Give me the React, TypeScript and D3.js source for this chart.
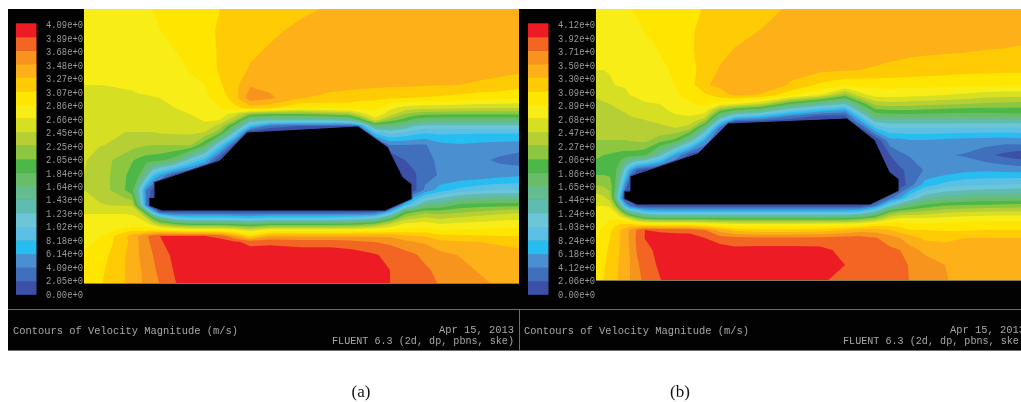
import * as d3 from 'd3'

// Band colours of the Fluent legend, lowest speed first
const bandColors = [
  '#3c50a8', '#4070bc', '#4a90d0', '#27bdf0', '#5cc0e4', '#6cc6d8', '#60bcb0', '#64bc8e', '#6abd68', '#4db848',
  '#8dc63f', '#b5cf35', '#d7df23', '#f9ed17', '#ffe600', '#ffcb05', '#fdb017', '#f7941e', '#f26522', '#ed1c24',
]

const labelsA = ['4.09e+0', '3.89e+0', '3.68e+0', '3.48e+0', '3.27e+0', '3.07e+0', '2.86e+0', '2.66e+0', '2.45e+0', '2.25e+0', '2.05e+0', '1.84e+0', '1.64e+0', '1.43e+0', '1.23e+0', '1.02e+0', '8.18e+0', '6.14e+0', '4.09e+0', '2.05e+0', '0.00e+0']
const labelsB = ['4.12e+0', '3.92e+0', '3.71e+0', '3.50e+0', '3.30e+0', '3.09e+0', '2.89e+0', '2.68e+0', '2.47e+0', '2.27e+0', '2.06e+0', '1.86e+0', '1.65e+0', '1.44e+0', '1.24e+0', '1.03e+0', '8.24e+0', '6.18e+0', '4.12e+0', '2.06e+0', '0.00e+0']

// Sampling stations along and across the domain
const stationsXA = [0, 16, 31, 41, 48, 55, 62, 69, 76, 91, 106, 121, 136, 151, 166, 186, 216, 246, 266, 276, 291, 306, 321, 331, 341, 356, 376, 396, 416, 435]
const stationsYA = [0, 21, 41, 61, 76, 89, 99, 105, 111, 117, 123, 136, 151, 166, 181, 196, 203, 209, 215, 221, 227, 233, 246, 261, 274]
const stationsXB = [0, 8, 14, 19, 24, 29, 34, 41, 49, 64, 79, 94, 109, 124, 139, 164, 194, 224, 249, 264, 279, 294, 304, 314, 329, 349, 369, 389, 409, 425]
const stationsYB = [0, 21, 41, 61, 76, 86, 95, 101, 107, 113, 119, 131, 146, 161, 176, 189, 197, 203, 209, 215, 221, 229, 241, 256, 271]

const bodyA = [[70, 173], [136, 151], [163, 123], [274, 117], [304, 138], [319, 168], [328, 175], [328, 190], [301, 202], [78, 202], [65, 197], [65, 188.5], [70, 188.5]]
const bodyB = [[34, 167], [102, 144], [132, 114], [251, 109], [279, 131], [294, 163], [303, 170], [303, 182], [274, 196], [41, 196], [28, 190], [28, 182], [34, 182]]

// Speed, in legend steps (one step is a twentieth of the top label)
const speedA = [
  [13.2, 13.3, 13.5, 13.6, 13.7, 13.8, 13.9, 14, 14.1, 14.4, 14.7, 14.9, 15, 15.2, 15.3, 15.5, 15.8, 16.1, 16.3, 16.4, 16.5, 16.5, 16.5, 16.5, 16.5, 16.5, 16.5, 16.5, 16.5, 16.5],
  [13.1, 13.2, 13.3, 13.4, 13.5, 13.6, 13.7, 13.85, 14, 14.3, 14.5, 14.8, 15.1, 15.3, 15.5, 15.8, 16.2, 16.4, 16.5, 16.5, 16.5, 16.5, 16.5, 16.5, 16.5, 16.5, 16.5, 16.5, 16.5, 16.5],
  [13.1, 13.15, 13.2, 13.25, 13.3, 13.35, 13.4, 13.5, 13.6, 14, 14.3, 14.7, 15.1, 15.5, 15.8, 16.1, 16.4, 16.5, 16.5, 16.5, 16.5, 16.5, 16.5, 16.5, 16.5, 16.5, 16.5, 16.5, 16.5, 16.5],
  [13.1, 13.1, 13.1, 13.15, 13.2, 13.25, 13.3, 13.4, 13.5, 13.7, 14.05, 14.6, 15.1, 15.6, 16.1, 16.4, 16.5, 16.5, 16.5, 16.5, 16.5, 16.5, 16.5, 16.5, 16.5, 16.5, 16.4, 16.35, 16.3, 16.2],
  [13, 13, 13.05, 13.1, 13.1, 13.2, 13.3, 13.4, 13.5, 13.6, 13.8, 14, 14.9, 15.7, 16.9, 16.7, 16.6, 16.5, 16.35, 16.3, 16.25, 16.2, 16.15, 16.1, 16.1, 16.05, 16, 15.85, 15.65, 15.4],
  [12.7, 12.7, 12.75, 12.8, 12.85, 12.9, 12.9, 12.95, 13, 13.2, 13.5, 13.8, 14.4, 15.6, 17.6, 17.2, 16.1, 15.6, 15.4, 15.3, 15.2, 15.1, 15, 14.95, 14.9, 14.8, 14.6, 14.4, 14.3, 14.1],
  [12.7, 12.7, 12.7, 12.7, 12.7, 12.7, 12.75, 12.8, 12.85, 13, 13.3, 13.5, 14, 14.7, 15.5, 15.3, 14, 14.3, 14.5, 14.3, 14.3, 13.2, 12.6, 12.4, 12.3, 12.3, 12.2, 12.1, 12, 12],
  [12.6, 12.6, 12.6, 12.6, 12.6, 12.6, 12.6, 12.65, 12.7, 12.8, 13, 13.3, 13.5, 12.5, 10.5, 10, 10, 10.5, 11, 12.5, 13.7, 12.5, 11, 10.5, 10.3, 10.2, 10.1, 10.1, 10.1, 10.2],
  [12.5, 12.5, 12.5, 12.5, 12.5, 12.5, 12.5, 12.5, 12.5, 12.5, 12.7, 13.1, 13, 11, 7, 6.5, 6.5, 6.5, 7, 9, 12.5, 10.5, 9.5, 8.5, 8.2, 8.1, 8.1, 8.1, 8.1, 8.1],
  [12.4, 12.4, 12.4, 12.4, 12.4, 12.4, 12.4, 12.4, 12.4, 12.4, 12.4, 12.8, 11.5, 8.5, 4, 1.5, 1, 1, 1, 2.5, 8, 8, 7, 6, 5.7, 5.7, 5.7, 5.7, 5.7, 5.7],
  [12.3, 12.2, 12.1, 12, 12, 12, 12, 12, 12.1, 12.2, 12.2, 12, 10.5, 6, 0.2, 0, 0, 0, 0, 0, 4.5, 5.5, 5, 4.5, 4.2, 4.3, 4.2, 4.2, 4.2, 4.2],
  [12.2, 12.05, 11.9, 11.6, 11.4, 11.2, 11.1, 11, 11, 11, 11.2, 9, 4.7, 0.5, 0, 0, 0, 0, 0, 0, 0, 2, 2, 1.9, 1.9, 2.7, 2.9, 2.7, 2.6, 2.5],
  [12.1, 11.5, 10.9, 10.5, 10.1, 9.8, 9.5, 9.4, 9.3, 8.5, 5.5, 3.5, 0, 0, 0, 0, 0, 0, 0, 0, 0, 0, 1, 1.3, 1.7, 2.2, 2.4, 2.2, 1.8, 1.5],
  [12, 11.4, 10.8, 10.1, 9.6, 9.1, 7, 4.2, 3, 0.5, 0, 0, 0, 0, 0, 0, 0, 0, 0, 0, 0, 0, 0.3, 0.9, 1.6, 2.1, 2.2, 2.3, 2.6, 2.8],
  [12, 11.4, 10.8, 10, 9.3, 6, 2, 0.5, 0, 0, 0, 0, 0, 0, 0, 0, 0, 0, 0, 0, 0, 0, 0, 0.8, 2.2, 3.5, 4.3, 4.8, 5, 5],
  [12.3, 12.1, 11.9, 11.9, 11.8, 8, 2, 0, 0, 0, 0, 0, 0, 0, 0, 0, 0, 0, 0, 0, 0, 0, 3.5, 5.5, 7.5, 8, 9.3, 9.5, 9.6, 9.6],
  [12.9, 12.9, 12.9, 12.9, 12.9, 12, 9, 4, 1, 0.8, 0.8, 0.8, 0.8, 0.7, 0.7, 0.8, 0.8, 0.8, 0.8, 0.8, 1, 3.5, 9.2, 10, 10.7, 10.5, 10.8, 11.2, 11.6, 11.8],
  [13.2, 13.2, 13.2, 13.2, 13.1, 13, 12, 9.5, 7.5, 5, 4.5, 4.5, 4.5, 4.3, 4, 4.5, 4.5, 4.5, 4.8, 5, 5.5, 8.5, 11.5, 11.8, 12.2, 11.8, 12.2, 12.5, 12.7, 12.8],
  [13.3, 13.3, 13.3, 13.3, 13.5, 13.6, 13.5, 12.5, 11.2, 10, 9.3, 9.3, 9.3, 9, 8.5, 9.2, 9.2, 9.2, 9.4, 9.7, 10.5, 12, 13.2, 13.3, 13.5, 13, 13.2, 13.3, 13.4, 13.5],
  [13.3, 13.5, 14, 14.5, 14.8, 14.5, 14.6, 14.7, 14.5, 14.2, 13.8, 13.8, 13.8, 13.3, 12.5, 13.5, 13.5, 13.5, 13.6, 13.7, 13.8, 14, 14.3, 14.3, 14.5, 14, 14.1, 14.2, 14.3, 14.3],
  [13.5, 14, 15.1, 15.8, 16.5, 17.1, 17.8, 18.5, 19, 19, 19, 19, 18.7, 17, 15, 16.8, 16.8, 16.8, 16.8, 16.8, 16.8, 16.8, 16.2, 16, 15.9, 15.3, 15.2, 15.1, 15, 15],
  [13.7, 14.2, 15.1, 15.8, 16.25, 17.05, 17.7, 18.3, 18.9, 19.4, 19.5, 19.5, 19.4, 19.2, 18.7, 18.8, 18.6, 18.6, 18.4, 18.2, 18, 17.8, 17.3, 17, 16.9, 16.3, 16.1, 16, 15.9, 15.7],
  [14.1, 14.6, 15.3, 15.95, 16.5, 17, 17.5, 18, 18.45, 19.3, 19.6, 19.7, 19.7, 19.7, 19.6, 19.6, 19.6, 19.6, 19.5, 19.4, 19.1, 18.7, 18.4, 18.1, 17.7, 17.3, 16.95, 16.5, 16.3, 16.3],
  [14.2, 14.8, 15.4, 16, 16.4, 16.85, 17.3, 17.8, 18.3, 19.1, 19.6, 19.7, 19.7, 19.7, 19.7, 19.7, 19.7, 19.7, 19.6, 19.5, 19.3, 19, 18.8, 18.6, 18.2, 17.7, 17.3, 16.9, 16.6, 16.5],
  [14.3, 14.9, 15.5, 16, 16.4, 16.85, 17.2, 17.65, 18.05, 18.95, 19.5, 19.7, 19.7, 19.7, 19.7, 19.7, 19.7, 19.7, 19.6, 19.5, 19.3, 19, 18.9, 18.7, 18.4, 17.9, 17.6, 17.2, 16.8, 16.5],
]

const speedB = [
  [13.2, 13.3, 13.4, 13.5, 13.6, 13.8, 14, 14.15, 14.25, 14.5, 14.7, 14.85, 15.05, 15.2, 15.4, 15.7, 16.1, 16.3, 16.4, 16.5, 16.5, 16.5, 16.5, 16.5, 16.5, 16.5, 16.5, 16.5, 16.5, 16.5],
  [13.1, 13.2, 13.3, 13.3, 13.4, 13.5, 13.6, 13.8, 14.05, 14.35, 14.7, 14.9, 15.2, 15.5, 15.7, 16, 16.3, 16.5, 16.5, 16.5, 16.5, 16.5, 16.5, 16.5, 16.5, 16.5, 16.5, 16.5, 16.5, 16.5],
  [13.05, 13.1, 13.15, 13.2, 13.25, 13.3, 13.4, 13.5, 13.7, 14.05, 14.5, 14.9, 15.3, 15.7, 16.05, 16.4, 16.5, 16.5, 16.5, 16.4, 16.4, 16.35, 16.3, 16.25, 16.2, 16.15, 16.1, 16, 15.95, 15.85],
  [13, 13, 13.05, 13.1, 13.15, 13.2, 13.3, 13.4, 13.6, 13.8, 14.15, 14.7, 15.4, 16.1, 16.9, 16.4, 16.3, 16.2, 16.1, 16, 15.9, 15.75, 15.7, 15.6, 15.5, 15.4, 15.3, 15.25, 15.2, 15.2],
  [12.6, 12.8, 12.9, 13, 13.05, 13.1, 13.15, 13.25, 13.4, 13.6, 14, 14.6, 15.9, 16.2, 17, 16.9, 15.9, 14.8, 14.2, 14.3, 14.3, 14.3, 14.3, 14.3, 14.3, 14.3, 14.2, 14.2, 14.15, 14.15],
  [12.1, 12.3, 12.5, 12.6, 12.7, 12.8, 13, 13.2, 13.3, 13.5, 13.9, 14.3, 14.8, 15.6, 16.2, 15.9, 14.3, 13, 10.5, 12.5, 13.4, 13.5, 13.4, 13.3, 13.2, 13, 12.8, 12.5, 12.4, 12.4],
  [11.8, 11.9, 12, 12.1, 12.2, 12.3, 12.4, 12.6, 12.9, 13, 13.5, 13.9, 14.3, 13.5, 13, 12, 9, 7, 6, 9, 11.3, 11.6, 11.5, 11.4, 11.3, 11.2, 11, 10.8, 10.7, 10.6],
  [11.7, 11.75, 11.8, 11.9, 12, 12.1, 12.2, 12.4, 12.6, 12.8, 13.2, 13.3, 13.5, 10.5, 9, 8, 5.2, 3.8, 3, 7, 9.7, 10, 10, 10, 9.9, 9.7, 9.6, 9.5, 9.6, 9.6],
  [11.6, 11.6, 11.7, 11.75, 11.8, 11.85, 12, 12.1, 12.2, 12.4, 12.9, 13, 12.5, 7.5, 5, 4, 2, 0.8, 0.7, 4.5, 8.2, 8.4, 8.5, 8.5, 8.5, 8.4, 8.4, 8.4, 8.5, 8.6],
  [11.5, 11.5, 11.5, 11.55, 11.6, 11.65, 11.7, 11.8, 11.9, 12.1, 12.3, 12.4, 10.5, 4.5, 0.5, 0.3, 0, 0, 0, 2.5, 6, 6.3, 6.3, 6.3, 6.3, 6.3, 6.3, 6.3, 6.3, 6.3],
  [11.3, 11.35, 11.4, 11.45, 11.5, 11.55, 11.6, 11.7, 11.75, 11.8, 12, 11.5, 7.5, 1.5, 0, 0, 0, 0, 0, 0.5, 4, 5, 5, 5, 5, 5, 4.9, 4.9, 4.9, 4.9],
  [11, 11, 11, 11, 11, 11, 11.1, 11.2, 11.3, 10.5, 9.8, 7, 3, 0, 0, 0, 0, 0, 0, 0, 0, 2.7, 2.7, 3, 3, 2.8, 2.7, 2.6, 2.5, 2.7],
  [10.2, 10, 9.9, 9.8, 9.7, 9.6, 9.6, 9.5, 9.2, 6.5, 3, 0.5, 0, 0, 0, 0, 0, 0, 0, 0, 0, 1, 1.8, 2.1, 2.3, 2.1, 1.9, 1.3, 0.7, 0.3],
  [9.5, 9.6, 9.6, 9.3, 8, 5.5, 3, 1, 0.3, 0, 0, 0, 0, 0, 0, 0, 0, 0, 0, 0, 0, 0.3, 0.8, 1.3, 2.1, 2.3, 2.7, 2.8, 2.7, 2.6],
  [11, 10.8, 10.5, 9, 6, 2.5, 0, 0, 0, 0, 0, 0, 0, 0, 0, 0, 0, 0, 0, 0, 0, 0, 0.3, 1.5, 3.5, 4.4, 4.8, 5, 5.1, 5.2],
  [12.6, 12.2, 11.5, 8, 3.5, 0, 0, 0, 0, 0, 0, 0, 0, 0, 0, 0, 0, 0, 0, 0, 0, 1.5, 3, 5, 6.8, 7.6, 7.8, 8, 8.1, 8.2],
  [13, 13, 12.9, 11, 8, 4, 2, 0.8, 0.5, 0.5, 0.5, 0.5, 0.5, 0.5, 0.5, 0.5, 0.5, 0.5, 0.5, 0.5, 2, 6, 7.5, 8.5, 9.5, 10.1, 10.3, 10.4, 10.5, 10.6],
  [13.3, 13.4, 13.5, 13, 11.5, 9, 7, 6, 4.5, 4, 4, 4, 4, 4, 4, 4, 4, 4, 4, 4.5, 6.5, 10, 10.8, 11, 11.3, 11.8, 12, 12.1, 12.2, 12.2],
  [13.5, 13.7, 13.8, 13.7, 13.5, 13, 12, 10.5, 9.5, 9, 9, 9, 9, 9, 9, 9, 9, 9, 9, 9.5, 10.5, 12.5, 13, 13, 13, 13.2, 13.4, 13.5, 13.6, 13.6],
  [13.7, 13.9, 14.4, 14.7, 15, 15, 15.1, 14.6, 14.2, 14, 14, 14, 13.6, 13.3, 13, 13, 13, 13.1, 13.3, 13.5, 14.2, 14.5, 14.5, 14.1, 14, 14.2, 14.3, 14.4, 14.4, 14.4],
  [13.8, 14.2, 14.8, 15.4, 15.95, 16.5, 17.2, 18.1, 19, 18.8, 18.7, 18.6, 18, 16.5, 15.7, 15.3, 15.3, 15.5, 16, 16.5, 16.5, 16, 15.5, 15, 15, 14.9, 14.9, 15, 15, 15],
  [13.9, 14.4, 15, 15.5, 16, 16.5, 17.2, 18.2, 19.05, 19.5, 19.45, 19.5, 19, 18.5, 18.3, 18.2, 18.2, 18.3, 18.5, 18.4, 18.1, 17.5, 17, 16.5, 15.8, 15.7, 16, 16, 16, 16],
  [14.1, 14.7, 15.2, 15.6, 16.05, 16.5, 17.1, 18.1, 18.6, 19.4, 19.6, 19.7, 19.6, 19.5, 19.3, 19.4, 19.4, 19.3, 18.7, 18.7, 18.5, 18.2, 18, 17.3, 16.8, 16.5, 16.3, 16.3, 16.3, 16.3],
  [14.2, 14.9, 15.4, 15.7, 16.15, 16.5, 17, 17.85, 18.4, 19.2, 19.6, 19.7, 19.7, 19.7, 19.7, 19.6, 19.6, 19.5, 19, 18.85, 18.5, 18.4, 18.4, 17.9, 17.4, 17, 16.4, 16.5, 16.5, 16.5],
  [14.3, 15.05, 15.5, 15.8, 16.2, 16.6, 17, 17.7, 18.25, 18.95, 19.5, 19.7, 19.7, 19.7, 19.7, 19.6, 19.6, 19.2, 18.6, 18.85, 18.5, 18.4, 18.4, 17.95, 17.5, 17.1, 16.5, 16.5, 16.5, 16.5],
]

const titleText = 'Contours of Velocity Magnitude (m/s)'
const dateText = 'Apr 15, 2013'
const solverText = 'FLUENT 6.3 (2d, dp, pbns, ske)'

const mono = '"Liberation Mono", "DejaVu Sans Mono", monospace'

function Panel({ id, left, right, plotLeft, plotBottom, legendLeft, stationsX, stationsY, speed, body, labels, caption, captionX }: any) {
  const width = stationsX[stationsX.length - 1]
  const height = stationsY[stationsY.length - 1]
  const xScale = d3.scaleLinear().domain([0, width]).range([plotLeft, plotLeft + width])
  const yScale = d3.scaleLinear().domain([0, height]).range([9, plotBottom])

  // d3.contours works in grid indices with nodes at i + 0.5, so map those back to the stations
  const xGrid = d3.scaleLinear().domain(stationsX.map((_: number, i: number) => i + 0.5)).range(stationsX)
  const yGrid = d3.scaleLinear().domain(stationsY.map((_: number, i: number) => i + 0.5)).range(stationsY)
  const project = d3.geoTransform({
    point(x, y) {
      this.stream.point(xScale(xGrid(x)), yScale(yGrid(y)))
    },
  })
  const path = d3.geoPath(project)

  const contours = d3.contours()
    .size([stationsX.length, stationsY.length])
    .smooth(true)
    .thresholds(d3.range(0, bandColors.length))(speed.flat())

  const bodyPath = d3.line().x((p: number[]) => xScale(p[0])).y((p: number[]) => yScale(p[1])).curve(d3.curveLinearClosed)(body)

  const legendY = d3.scaleLinear().domain([0, bandColors.length]).range([294.3, 23.3])
  const labelY = d3.scaleLinear().domain([0, labels.length - 1]).range([25, 294.3])
  const footerText = { fontFamily: mono, fill: '#a8a8a8', lengthAdjust: 'spacingAndGlyphs' as const, fontSize: 11 }

  return (
    <g>
      <rect x={left} y={9} width={right - left} height={342} fill="#020202" />
      <clipPath id={`plot-${id}`}>
        <rect x={plotLeft} y={9} width={width} height={height} />
      </clipPath>
      <g clipPath={`url(#plot-${id})`}>
        {contours.map((c: any, i: number) => (
          <path key={i} d={path(c) ?? ''} fill={bandColors[i]} />
        ))}
        <path d={bodyPath ?? ''} fill="#000" stroke={bandColors[0]} strokeWidth={1} />
      </g>
      <line x1={plotLeft} x2={plotLeft + width} y1={plotBottom + 0.5} y2={plotBottom + 0.5} stroke="#8a7a50" strokeWidth={1} />

      {bandColors.map((color, i) => (
        <rect key={color} x={legendLeft} y={legendY(i + 1)} width={20.5} height={legendY(i) - legendY(i + 1) + 0.5} fill={color} />
      ))}
      {labels.map((label: string, i: number) => (
        <text key={i} x={legendLeft + 30} y={labelY(i)} dy="0.34em" fontFamily={mono} fontSize={10} textLength={37} lengthAdjust="spacingAndGlyphs" fill="#9a9a9a">{label}</text>
      ))}

      <line x1={left} x2={right} y1={309.5} y2={309.5} stroke="#6e6e6e" strokeWidth={1} />
      <line x1={left} x2={right} y1={350.5} y2={350.5} stroke="#6e6e6e" strokeWidth={1} />
      <text x={left + 5} y={330} dy="0.34em" textLength={225} {...footerText}>{titleText}</text>
      <text x={left + 431} y={329} dy="0.34em" textLength={75} {...footerText}>{dateText}</text>
      <text x={left + 324} y={340} dy="0.34em" textLength={182} {...footerText}>{solverText}</text>

      <text x={captionX} y={392} dy="0.32em" textAnchor="middle" fontFamily='"Liberation Serif", serif' fontSize={17} fill="#111">{caption}</text>
    </g>
  )
}

export default function App() {
  return (
    <svg width={1021} height={402} style={{ position: 'absolute', left: 0, top: 0, background: '#fff', filter: 'blur(0.45px)' }}>
      <Panel
        id="a" left={8} right={519} plotLeft={84} plotBottom={283} legendLeft={16}
        stationsX={stationsXA} stationsY={stationsYA} speed={speedA} body={bodyA}
        labels={labelsA} caption="(a)" captionX={361}
      />
      <Panel
        id="b" left={519} right={1021} plotLeft={596} plotBottom={280} legendLeft={528}
        stationsX={stationsXB} stationsY={stationsYB} speed={speedB} body={bodyB}
        labels={labelsB} caption="(b)" captionX={680}
      />
      <line x1={519.5} x2={519.5} y1={309} y2={351} stroke="#6e6e6e" strokeWidth={1} />
    </svg>
  )
}
